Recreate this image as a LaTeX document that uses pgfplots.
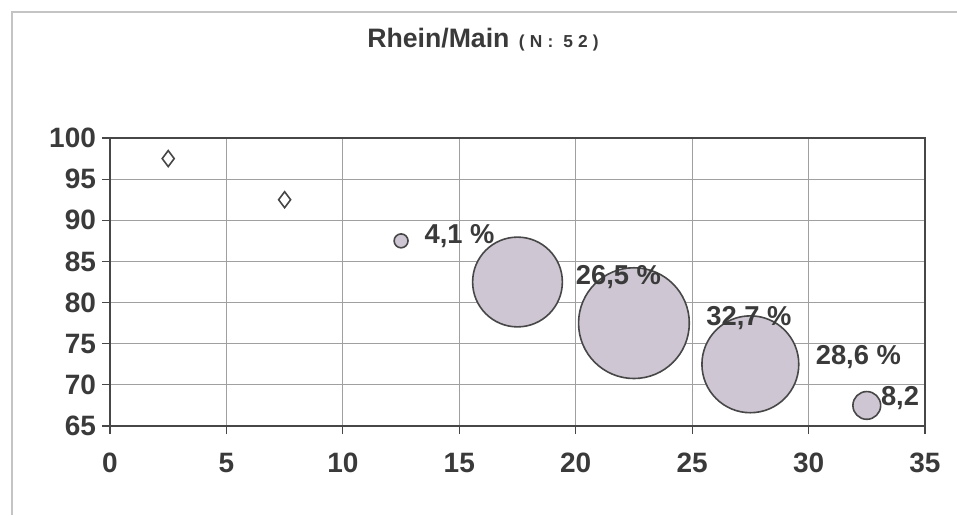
\documentclass[border=0pt]{standalone}
\usepackage{pgfplots}
\pgfplotsset{compat=1.18}
\usepackage{fontspec}
\setmainfont{Liberation Sans}
\definecolor{txt}{HTML}{3A3A3A}
\definecolor{bub}{HTML}{CEC7D3}
\definecolor{edge}{HTML}{474747}
\definecolor{gridc}{HTML}{A0A0A0}
\definecolor{framec}{HTML}{C4C4C4}
\begin{document}
\begin{tikzpicture}[x=0.75pt,y=0.75pt]
\useasboundingbox (0,0) rectangle (957,515);
\draw[framec, line width=1.5pt] (12,0) -- (12,503) -- (957,503);
\node[anchor=base west, inner sep=0, text=txt, font=\bfseries\fontsize{20}{20}\selectfont] at (367,467)
  {Rhein/Main\hspace{7pt}{\fontsize{13}{14}\selectfont\addfontfeatures{LetterSpace=30}(N: 52)}};
\begin{axis}[
  at={(82.5pt,66.75pt)}, anchor=south west,
  scale only axis, width=611.25pt, height=216pt,
  xmin=0, xmax=35, ymin=65, ymax=100,
  xtick={0,5,...,35}, ytick={65,70,...,100},
  grid=major, major grid style={gridc, line width=0.8pt},
  axis line style={edge, line width=1.5pt},
  tick style={edge, line width=0.8pt}, tick align=outside, major tick length=6pt,
  xtick pos=bottom, ytick pos=left,
  tick label style={font=\bfseries\fontsize{21}{21}\selectfont, text=txt},
  /pgf/number format/assume math mode=true,
  xticklabel style={yshift=-11pt},
  yticklabel style={xshift=-1pt},
  clip=false,
]
\addplot[only marks, mark=diamond, mark size=6pt,
  mark options={draw=edge, fill=white, line width=1.2pt}]
  coordinates {(2.5,97.5) (7.5,92.5)};
\addplot[only marks, scatter, mark=*,
  scatter/use mapped color={draw=edge, fill=bub},
  visualization depends on={1.27*\thisrow{s} \as \msize},
  scatter/@pre marker code/.append style={/tikz/mark size=\msize},
  mark options={line width=1.2pt}]
  table[x=x, y=y] {
x    y    s
12.5 87.5 4.1
17.5 82.5 26.5
22.5 77.5 32.7
27.5 72.5 28.6
32.5 67.5 8.2
};
\coordinate (l1) at (axis cs:13.5,88.1);
\coordinate (l2) at (axis cs:20.0,83.1);
\coordinate (l3) at (axis cs:25.6,78.1);
\coordinate (l4) at (axis cs:30.3,73.4);
\coordinate (l5) at (axis cs:33.1,68.4);
\end{axis}
\begin{scope}[every node/.style={anchor=west, inner sep=0, text=txt, font=\bfseries\fontsize{20.5}{21}\selectfont}]
\node at (l1) {4,1 \%};
\node at (l2) {26,5 \%};
\node at (l3) {32,7 \%};
\node at (l4) {28,6 \%};
\node at (l5) {8,2};
\end{scope}
\end{tikzpicture}
\end{document}
